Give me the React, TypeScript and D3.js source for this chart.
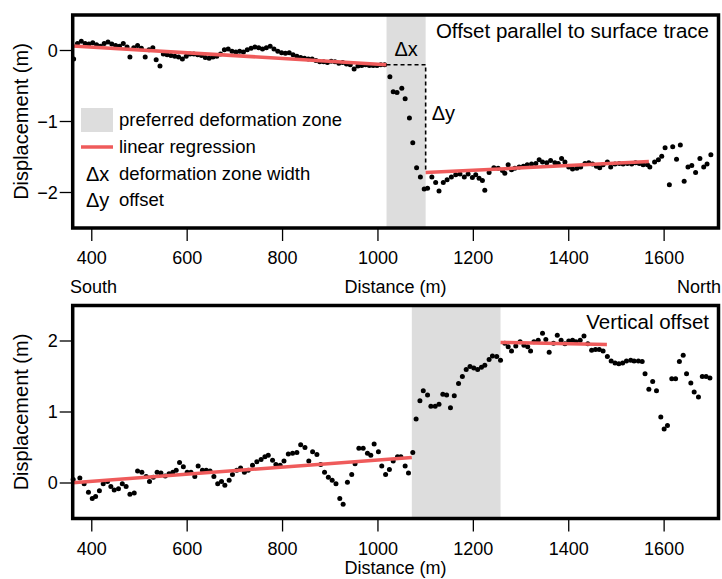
import React from 'react';
import * as d3 from 'd3';

// ---------- data ----------
const distanceDomain: [number, number] = [360, 1714];
const distanceTicks = [400, 600, 800, 1000, 1200, 1400, 1600];

const topDomain: [number, number] = [-2.5, 0.5];
const topTicks = [0, -1, -2];
const bottomDomain: [number, number] = [-0.5, 2.5];
const bottomTicks = [0, 1, 2];

const topZone: [number, number] = [1018, 1100];
const bottomZone: [number, number] = [1071, 1257];

// regression segments: [x1, y1, x2, y2]
const topFits: [number, number, number, number][] = [
  [360, 0.065, 1018, -0.2],
  [1100, -1.72, 1568, -1.565],
];
const bottomFits: [number, number, number, number][] = [
  [360, 0.005, 1071, 0.36],
  [1257, 1.98, 1480, 1.95],
];

const topPoints: [number, number][] = [
  [362, -0.12], [370, 0.1], [378, 0.13], [386, 0.1], [394, 0.09], [402, 0.11], [410, 0.08], [418, 0.06],
  [426, 0.1], [434, 0.12], [442, 0.09], [450, 0.07], [458, 0.06], [466, 0.1], [474, 0.05], [480, -0.09],
  [488, 0.04], [496, 0.07], [504, 0.03], [512, -0.09], [520, 0.01], [528, 0.04], [535, -0.13], [543, -0.22],
  [550, -0.05], [558, -0.06], [566, -0.07], [574, -0.08], [582, -0.09], [590, -0.12], [598, -0.08], [606, -0.05],
  [614, -0.05], [622, -0.06], [630, -0.07], [638, -0.1], [646, -0.11], [654, -0.09], [662, -0.08], [670, -0.05],
  [678, 0.01], [686, 0.02], [694, -0.01], [702, -0.02], [710, -0.01], [718, -0.02], [726, 0.01], [734, 0.03],
  [742, 0.05], [750, 0.04], [758, 0.02], [766, 0.04], [774, 0.06], [782, 0.02], [790, -0.01], [798, -0.03],
  [806, -0.04], [814, -0.03], [822, -0.06], [830, -0.08], [838, -0.1], [846, -0.11], [854, -0.12], [862, -0.12],
  [870, -0.14], [878, -0.16], [886, -0.16], [894, -0.17], [902, -0.15], [910, -0.16], [918, -0.18], [926, -0.17],
  [934, -0.19], [942, -0.2], [950, -0.26], [958, -0.22], [966, -0.21], [974, -0.2], [982, -0.21], [990, -0.21],
  [998, -0.21], [1006, -0.2], [1014, -0.2],
  [1025, -0.37], [1032, -0.58], [1040, -0.59], [1050, -0.53], [1057, -0.68], [1066, -0.95], [1073, -1.3],
  [1081, -1.65], [1089, -1.78], [1097, -1.95], [1104, -1.94],
  [1113, -1.78], [1121, -1.86], [1128, -1.98], [1137, -1.86], [1145, -1.82], [1154, -1.78], [1163, -1.75],
  [1172, -1.74], [1181, -1.78], [1189, -1.74], [1198, -1.79], [1205, -1.75], [1212, -1.8], [1219, -1.83],
  [1224, -1.97], [1233, -1.72], [1243, -1.65], [1252, -1.66], [1261, -1.69], [1266, -1.73], [1273, -1.61],
  [1280, -1.68], [1287, -1.66], [1296, -1.64], [1305, -1.63], [1313, -1.61], [1322, -1.6], [1331, -1.59],
  [1338, -1.54], [1345, -1.57], [1354, -1.58], [1362, -1.55], [1371, -1.58], [1378, -1.59], [1385, -1.52],
  [1392, -1.57], [1400, -1.64], [1408, -1.67], [1417, -1.66], [1425, -1.64], [1434, -1.59], [1442, -1.58],
  [1450, -1.6], [1458, -1.63], [1465, -1.65], [1472, -1.61], [1481, -1.57], [1488, -1.64], [1497, -1.6],
  [1506, -1.59], [1514, -1.6], [1523, -1.59], [1532, -1.6], [1540, -1.58], [1548, -1.59], [1556, -1.61],
  [1565, -1.61], [1570, -1.64], [1580, -1.57], [1588, -1.54], [1595, -1.49], [1602, -1.37], [1611, -1.89],
  [1618, -1.355], [1626, -1.53], [1634, -1.33], [1642, -1.84], [1650, -1.64], [1658, -1.62], [1666, -1.72],
  [1675, -1.52], [1683, -1.64], [1690, -1.6], [1698, -1.47],
];

const bottomPoints: [number, number][] = [
  [361, 0.05], [375, 0.07], [384, -0.01], [393, -0.13], [401, -0.22], [408, -0.19], [416, -0.11], [424, -0.01],
  [433, 0.02], [440, -0.05], [447, -0.1], [456, -0.08], [464, -0.01], [472, -0.05], [480, -0.16], [489, -0.14],
  [496, 0.17], [505, 0.15], [514, 0.09], [521, 0.02], [529, 0.08], [537, 0.15], [545, 0.14], [554, 0.1],
  [562, 0.13], [570, 0.15], [577, 0.18], [584, 0.29], [592, 0.23], [600, 0.15], [608, 0.15], [616, 0.09],
  [623, 0.24], [632, 0.18], [640, 0.18], [648, 0.17], [656, 0.09], [664, -0.01], [672, 0.02], [679, -0.03],
  [688, 0.04], [695, 0.12], [704, 0.18], [712, 0.21], [720, 0.15], [728, 0.18], [737, 0.25], [746, 0.3],
  [755, 0.33], [763, 0.37], [770, 0.39], [779, 0.32], [786, 0.26], [795, 0.25], [803, 0.31], [812, 0.41],
  [821, 0.42], [830, 0.43], [838, 0.54], [847, 0.5], [855, 0.31], [863, 0.44], [872, 0.4], [880, 0.26],
  [888, 0.15], [896, 0.08], [904, 0.04], [912, -0.01], [920, -0.22], [927, -0.3], [936, 0.01], [945, 0.12],
  [952, 0.27], [960, 0.49], [969, 0.49], [978, 0.42], [985, 0.39], [992, 0.55], [1001, 0.44], [1008, 0.24],
  [1016, 0.12], [1024, 0.19], [1032, 0.31], [1041, 0.37], [1048, 0.37], [1057, 0.24], [1064, 0.14],
  [1073, 0.43], [1080, 0.9], [1088, 1.16], [1095, 1.3], [1104, 1.24], [1111, 1.08], [1120, 1.08], [1128, 1.11],
  [1136, 1.25], [1144, 1.24], [1152, 1.06], [1160, 1.23], [1169, 1.4], [1177, 1.5], [1185, 1.6], [1193, 1.64],
  [1201, 1.62], [1209, 1.6], [1217, 1.63], [1224, 1.66], [1233, 1.74], [1240, 1.79], [1249, 1.78], [1257, 1.73],
  [1266, 1.97], [1273, 1.92], [1280, 1.86], [1289, 1.93], [1298, 1.99], [1306, 1.94], [1314, 1.92], [1320, 1.86],
  [1327, 1.99], [1336, 2.01], [1345, 2.11], [1352, 2.02], [1359, 1.84], [1368, 1.97], [1376, 2.08], [1384, 2.01],
  [1392, 1.96], [1400, 2.0], [1408, 2.01], [1415, 1.99], [1424, 2.01], [1432, 2.07], [1440, 1.96], [1448, 1.87],
  [1456, 1.88], [1464, 1.88], [1472, 1.86], [1481, 1.78], [1489, 1.72], [1497, 1.69], [1505, 1.68], [1513, 1.69],
  [1521, 1.72], [1530, 1.73], [1537, 1.72], [1546, 1.72], [1554, 1.71], [1560, 1.54], [1568, 1.32], [1576, 1.43],
  [1584, 1.3], [1593, 0.93], [1600, 0.76], [1607, 0.81], [1616, 1.47], [1624, 1.47], [1632, 1.71], [1640, 1.8],
  [1647, 1.54], [1656, 1.41], [1663, 1.28], [1672, 1.21], [1680, 1.5], [1688, 1.5], [1696, 1.48],
];

// ---------- layout ----------
const W = 722;
const H = 579;
const LEFT = 72.7;
const RIGHT = 718.5;
const FONT = "'Liberation Sans', Arial, Helvetica, sans-serif";
const RED = '#ef5b5b';
const GRAY = '#dddddd';

const x = d3.scaleLinear().domain(distanceDomain).range([LEFT, RIGHT]);

const fmt = (v: number) => (v < 0 ? '\u2212' + Math.abs(v) : String(v));

type PanelProps = {
  top: number;
  bottom: number;
  domain: [number, number];
  ticks: number[];
  points: [number, number][];
  fits: [number, number, number, number][];
  zone: [number, number];
  title: string;
  children?: (y: d3.ScaleLinear<number, number>) => React.ReactNode;
};

function Panel({ top, bottom, domain, ticks, points, fits, zone, title, children }: PanelProps) {
  const y = d3.scaleLinear().domain(domain).range([bottom, top]);
  const line = d3.line<[number, number]>().x((d) => x(d[0])).y((d) => y(d[1]));
  return (
    <g>
      <rect x={x(zone[0])} y={top} width={x(zone[1]) - x(zone[0])} height={bottom - top} fill={GRAY} />
      {points.map((p, i) => (
        <circle key={i} cx={x(p[0])} cy={y(p[1])} r={2.5} fill="#000" />
      ))}
      {fits.map((f, i) => (
        <path
          key={i}
          d={line([[f[0], f[1]], [f[2], f[3]]]) || ''}
          stroke={RED}
          strokeWidth={3.5}
          fill="none"
        />
      ))}
      {children && children(y)}
      <rect x={LEFT} y={top} width={RIGHT - LEFT} height={bottom - top} fill="none" stroke="#000" strokeWidth={3.5} />
      {ticks.map((t) => (
        <g key={t}>
          <line x1={LEFT - 13} x2={LEFT} y1={y(t)} y2={y(t)} stroke="#000" strokeWidth={1.3} />
          <text x={LEFT - 15} y={y(t)} dy="0.35em" textAnchor="end" fontSize={18} fontFamily={FONT}>
            {fmt(t)}
          </text>
        </g>
      ))}
      {distanceTicks.map((t) => (
        <g key={t}>
          <line x1={x(t)} x2={x(t)} y1={bottom} y2={bottom + 13} stroke="#000" strokeWidth={1.3} />
          <text x={x(t)} y={bottom + 36} textAnchor="middle" fontSize={18} fontFamily={FONT}>
            {t}
          </text>
        </g>
      ))}
      <text
        transform={`translate(21,${(top + bottom) / 2}) rotate(-90)`}
        textAnchor="middle"
        dy="0.35em"
        fontSize={20}
        fontFamily={FONT}
      >
        Displacement (m)
      </text>
      <text x={709} y={top + 23} textAnchor="end" fontSize={20.5} fontFamily={FONT}>
        {title}
      </text>
    </g>
  );
}

export default function App() {
  const topY0 = 15;
  const topY1 = 228;
  const botY0 = 305.5;
  const botY1 = 518.5;
  return (
    <svg
      width={W}
      height={H}
      style={{ position: 'absolute', left: 0, top: 0, background: '#fff' }}
    >
      <rect width={W} height={H} fill="#fff" />
      <Panel
        top={topY0}
        bottom={topY1}
        domain={topDomain}
        ticks={topTicks}
        points={topPoints}
        fits={topFits}
        zone={topZone}
        title="Offset parallel to surface trace"
      >
        {(y) => (
          <g>
            <path
              d={`M${x(topFits[0][2])},${y(topFits[0][3])} H${x(topZone[1])} V${y(topFits[1][1])}`}
              fill="none"
              stroke="#000"
              strokeWidth={1.6}
              strokeDasharray="4,3"
            />
            <text x={(x(topZone[0]) + x(topZone[1])) / 2} y={56} textAnchor="middle" fontSize={20} fontFamily={FONT}>
              Δx
            </text>
            <text x={x(topZone[1]) + 6} y={120} fontSize={20} fontFamily={FONT}>
              Δy
            </text>
            {/* legend */}
            <rect x={81} y={108} width={32} height={24} fill={GRAY} />
            <text x={119} y={120} dy="0.35em" fontSize={18.5} fontFamily={FONT}>preferred deformation zone</text>
            <line x1={81} x2={113} y1={147} y2={147} stroke={RED} strokeWidth={3.5} />
            <text x={119} y={147} dy="0.35em" fontSize={18.5} fontFamily={FONT}>linear regression</text>
            <text x={86} y={174} dy="0.35em" fontSize={20} fontFamily={FONT}>Δx</text>
            <text x={119} y={174} dy="0.35em" fontSize={18.5} fontFamily={FONT}>deformation zone width</text>
            <text x={86} y={200} dy="0.35em" fontSize={20} fontFamily={FONT}>Δy</text>
            <text x={119} y={200} dy="0.35em" fontSize={18.5} fontFamily={FONT}>offset</text>
          </g>
        )}
      </Panel>
      <text x={70} y={293} fontSize={18} fontFamily={FONT}>South</text>
      <text x={(LEFT + RIGHT) / 2} y={293} textAnchor="middle" fontSize={18} fontFamily={FONT}>Distance (m)</text>
      <text x={721} y={293} textAnchor="end" fontSize={18} fontFamily={FONT}>North</text>
      <Panel
        top={botY0}
        bottom={botY1}
        domain={bottomDomain}
        ticks={bottomTicks}
        points={bottomPoints}
        fits={bottomFits}
        zone={bottomZone}
        title="Vertical offset"
      />
      <text x={(LEFT + RIGHT) / 2} y={574} textAnchor="middle" fontSize={18} fontFamily={FONT}>Distance (m)</text>
    </svg>
  );
}
